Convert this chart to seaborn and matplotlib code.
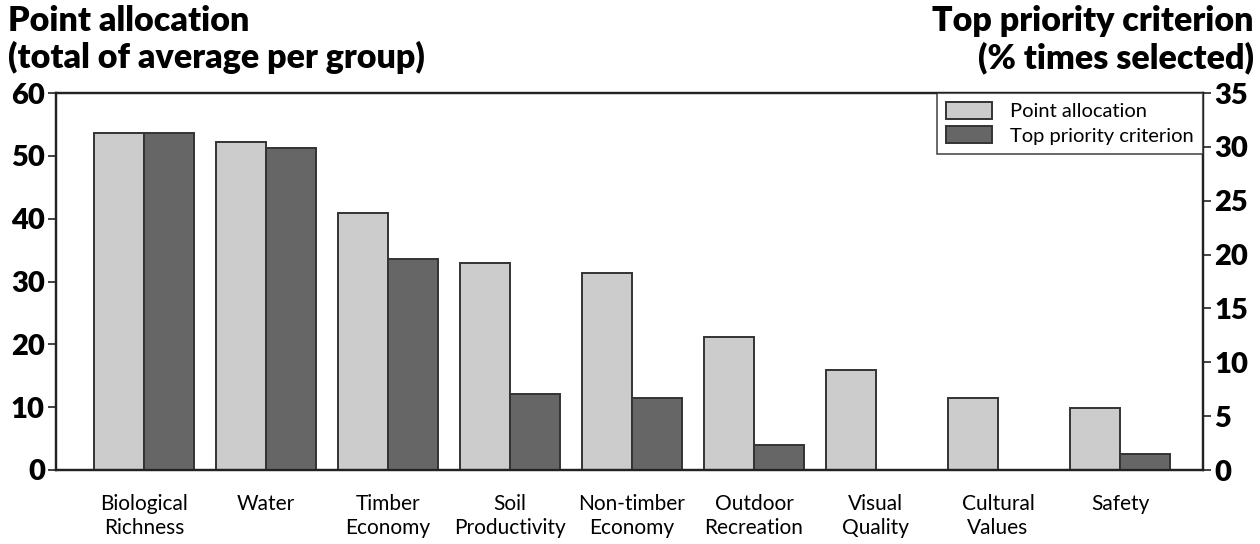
import matplotlib
matplotlib.use("Agg")
import matplotlib.pyplot as plt
import matplotlib.patches as mpatches
import numpy as np
import pandas as pd
import seaborn as sns

# data
categories = ["Biological\nRichness", "Water", "Timber\nEconomy", "Soil\nProductivity",
              "Non-timber\nEconomy", "Outdoor\nRecreation", "Visual\nQuality",
              "Cultural\nValues", "Safety"]
point_allocation = [53.7, 52.2, 40.9, 32.9, 31.4, 21.2, 15.9, 11.5, 9.8]
top_priority = [31.3, 29.9, 19.6, 7.1, 6.65, 2.3, 0.0, 0.0, 1.5]
series = ["Point allocation", "Top priority criterion"]

light = "#cccccc"
dark = "#666666"
edge = "#333333"

sns.set_style("white")
plt.rcParams["font.family"] = ["Lato", "DejaVu Sans"]
plt.rcParams["text.color"] = "black"
plt.rcParams["xtick.color"] = "black"
plt.rcParams["ytick.color"] = "black"

# long table; each axis gets NaN for the other series so hue dodge keeps positions
df_left = pd.DataFrame({
    "criterion": categories * 2,
    "series": [series[0]] * 9 + [series[1]] * 9,
    "value": point_allocation + [np.nan] * 9,
})
df_right = df_left.copy()
df_right["value"] = [np.nan] * 9 + top_priority

fig = plt.figure(figsize=(12.6, 5.44), dpi=100)
ax = fig.add_axes([56 / 1260, 1 - 470 / 544, (1203 - 56) / 1260, (470 - 93) / 544])
ax2 = ax.twinx()

pal = {series[0]: light, series[1]: dark}
sns.barplot(data=df_left, x="criterion", y="value", hue="series", palette=pal,
            width=0.82, edgecolor=edge, linewidth=1.4, ax=ax, legend=False, saturation=1)
sns.barplot(data=df_right, x="criterion", y="value", hue="series", palette=pal,
            width=0.82, edgecolor=edge, linewidth=1.4, ax=ax2, legend=False, saturation=1)

ax.set_xlim(-0.72, 8.68)
ax.set_ylim(0, 60)
ax2.set_ylim(0, 35)
ax.set_yticks(range(0, 61, 10))
ax2.set_yticks(range(0, 36, 5))
ax.set_xlabel("")
ax.set_ylabel("")
ax2.set_ylabel("")

# category labels without ticks, separator ticks between groups
ax.set_xticks(range(9))
ax.set_xticklabels(categories, fontsize=15, linespacing=1.3)
ax.tick_params(axis="x", which="major", length=0, pad=17)
ax.set_xticks(np.arange(0.5, 8, 1), minor=True)
ax.tick_params(axis="x", which="minor", direction="inout", length=13, width=1.2, color="#222222")

ax.tick_params(axis="y", direction="out", length=6, width=1.2, color="#222222", pad=2)
ax2.tick_params(axis="y", direction="out", length=6, width=1.2, color="#222222", pad=2)
for lab in ax.get_yticklabels() + ax2.get_yticklabels():
    lab.set_fontsize(21)
    lab.set_fontweight("heavy")

for a in (ax, ax2):
    for s in a.spines.values():
        s.set_visible(True)
        s.set_linewidth(1.6)
        s.set_color("#222222")

handles = [mpatches.Patch(facecolor=light, edgecolor=edge, linewidth=1.4, label=series[0]),
           mpatches.Patch(facecolor=dark, edgecolor=edge, linewidth=1.4, label=series[1])]
leg = ax2.legend(handles=handles, loc="upper right", bbox_to_anchor=(1.0, 1.0),
                 fontsize=14.5, frameon=True, fancybox=False, borderaxespad=0,
                 handlelength=2.3, handleheight=0.9, handletextpad=0.9, borderpad=0.45,
                 labelspacing=0.3)
leg.get_frame().set_edgecolor("#222222")
leg.get_frame().set_linewidth(1.2)

fig.text(8 / 1260, 1 - 5 / 544, "Point allocation\n(total of average per group)",
         ha="left", va="top", fontsize=24.5, fontweight="heavy", linespacing=1.15)
fig.text(1 - 6 / 1260, 1 - 5 / 544, "Top priority criterion\n(% times selected)",
         ha="right", va="top", fontsize=24.5, fontweight="heavy", linespacing=1.15,
         multialignment="right")

fig.savefig("out.png", dpi=100)
